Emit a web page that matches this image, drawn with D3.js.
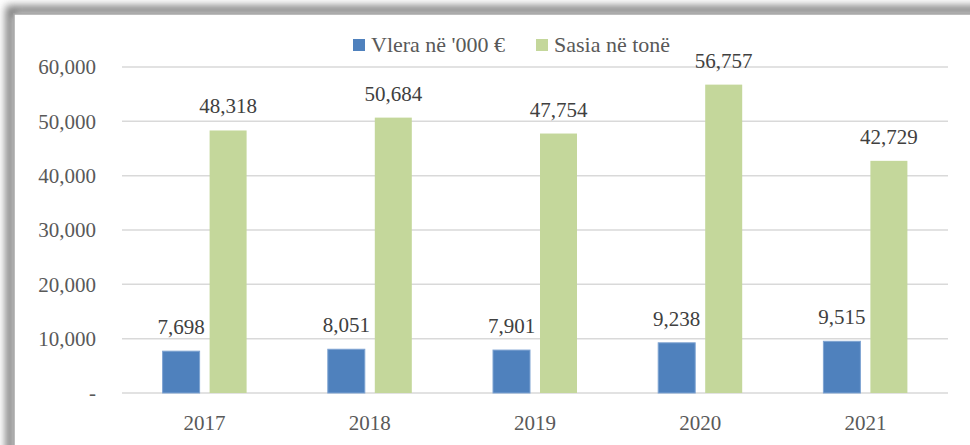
<!DOCTYPE html>
<html>
<head>
<meta charset="utf-8">
<script src="https://cdn.jsdelivr.net/npm/d3@7"></script>
<style>
  body { margin: 0; background: #fff; }
</style>
</head>
<body>
<div id="chart"></div>
<script>
// data
const years = ["2017", "2018", "2019", "2020", "2021"];
const seriesNames = ["Vlera në '000 €", "Sasia në tonë"];
const vlera = [7698, 8051, 7901, 9238, 9515];
const sasia = [48318, 50684, 47754, 56757, 42729];
const yTicks = [0, 10000, 20000, 30000, 40000, 50000, 60000];
const colors = ["#4f81bd", "#c4d79b"];

const font = "'Liberation Serif', 'Times New Roman', 'DejaVu Serif', serif";

const width = 970, height = 445;
const margin = {top: 67, right: 22, bottom: 52, left: 122};

const svg = d3.select("#chart").append("svg")
    .attr("width", width)
    .attr("height", height);

// frame with soft shadow
const defs = svg.append("defs");
const blur = defs.append("filter").attr("id", "blur")
    .attr("x", "-10%").attr("y", "-10%").attr("width", "120%").attr("height", "120%");
blur.append("feGaussianBlur").attr("stdDeviation", 4);

svg.append("rect")
    .attr("x", 10).attr("y", 10)
    .attr("width", 1000).attr("height", 500)
    .attr("fill", "none")
    .attr("stroke", "#707070")
    .attr("stroke-width", 8)
    .attr("filter", "url(#blur)");
svg.append("rect")
    .attr("x", 14).attr("y", 14)
    .attr("width", 1000).attr("height", 500)
    .attr("fill", "#fff")
    .attr("stroke", "#a6a6a6")
    .attr("stroke-width", 1.5);

const innerW = width - margin.left - margin.right;
const innerH = 393 - margin.top;

const g = svg.append("g")
    .attr("transform", "translate(" + margin.left + "," + margin.top + ")");

const x = d3.scaleBand().domain(years).range([0, innerW]);
const y = d3.scaleLinear().domain([0, 60000]).range([innerH, 0]);

const fmt = d3.format(",");

// gridlines
g.append("g")
    .selectAll("line")
    .data(yTicks)
    .join("line")
    .attr("x1", 0).attr("x2", innerW)
    .attr("y1", d => y(d)).attr("y2", d => y(d))
    .attr("stroke", "#d9d9d9")
    .attr("stroke-width", 1.5);

// y axis labels
const yAxis = d3.axisLeft(y).tickValues(yTicks)
    .tickSize(0).tickPadding(26)
    .tickFormat(d => d === 0 ? "-" : fmt(d));
g.append("g")
    .call(yAxis)
    .attr("font-family", null)
    .call(s => s.select(".domain").remove())
    .selectAll("text")
    .attr("fill", "#595959")
    .style("font-family", font)
    .style("font-size", "21px")
    .attr("dy", "0.32em");

// x axis labels
const xAxis = d3.axisBottom(x).tickSize(0).tickPadding(22);
g.append("g")
    .attr("transform", "translate(0," + innerH + ")")
    .call(xAxis)
    .attr("font-family", null)
    .call(s => s.select(".domain").remove())
    .selectAll("text")
    .attr("fill", "#595959")
    .style("font-family", font)
    .style("font-size", "21px");

// bars
const barW = 37, gap = 10;
const sub = d3.scaleOrdinal().domain([0, 1])
    .range([-(gap / 2 + barW), gap / 2]);

const series = [vlera, sasia];
series.forEach((vals, i) => {
    const grp = g.append("g");
    grp.selectAll("rect")
        .data(vals)
        .join("rect")
        .attr("x", (d, j) => x(years[j]) + x.bandwidth() / 2 + sub(i))
        .attr("y", d => y(d))
        .attr("width", barW)
        .attr("height", d => innerH - y(d))
        .attr("fill", colors[i])
        .attr("stroke", i === 0 ? "#7ea3d2" : "none")
        .attr("stroke-width", 1);
    grp.selectAll("text")
        .data(vals)
        .join("text")
        .attr("x", (d, j) => x(years[j]) + x.bandwidth() / 2 + sub(i) + barW / 2)
        .attr("y", d => y(d) - 17)
        .attr("text-anchor", "middle")
        .attr("fill", "#404040")
        .style("font-family", font)
        .style("font-size", "21px")
        .text(d => fmt(d));
});

// legend
const legendX = [353, 536];
const leg = svg.append("g");
seriesNames.forEach((name, i) => {
    leg.append("rect")
        .attr("x", legendX[i]).attr("y", 39)
        .attr("width", 12).attr("height", 12)
        .attr("fill", colors[i]);
    leg.append("text")
        .attr("x", legendX[i] + 18).attr("y", 52)
        .attr("fill", "#595959")
        .style("font-family", font)
        .style("font-size", "22px")
        .text(name);
});
</script>
</body>
</html>
